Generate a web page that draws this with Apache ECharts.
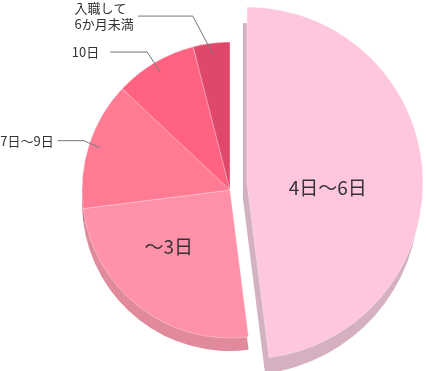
<!DOCTYPE html>
<html><head><meta charset="utf-8">
<script src="https://cdn.jsdelivr.net/npm/echarts@6/dist/echarts.min.js"></script>
<style>html,body{margin:0;padding:0;background:#fff}#c{width:426px;height:371px}</style>
</head><body><div id="c"></div>
<script>
// ---- data ----
const categories = ['4日〜6日', '〜3日', '7日〜9日', '10日', '入職して\n6か月未満'];
const values = [48, 25, 14, 9, 4];
// ---- styles ----
const faceColors = ['#FEC7DE', '#FF92A8', '#FF7B94', '#FF6381', '#DF486A'];
const sideColors = ['#D4B0C0', '#E08A9C', '#E07489', '#DE5E79', '#C23F5E'];
const explodedIndex = 0;
const MAIN = {cx: 230, cy: 190, r: 148, depth: [0, 13]};
const EXPL = {cx: 247, cy: 183, r: 176, depth: [-4, 16]};
const insideIdx = [0, 1];
const insideShift = {0: [-10, 10], 1: [-14, -4]};
// leader style per item: [elbow dx, elbow dy, horizontal length, text gap]
const leader = {2: [-16, -7, 26, 4], 3: [-13, -20, 37, 11], 4: [-20, -38, 55, 4]};
const NONE = 'rgba(0,0,0,0)';
const FONT = '"Noto Sans CJK JP","Noto Sans",sans-serif';

function makeData(colorFn, extra) {
  return categories.map((name, i) => {
    const c = colorFn(i);
    const d = {name: name, value: values[i], itemStyle: {color: c}};
    if (extra) extra(d, i, c);
    return d;
  });
}
function basePie(geo, dx, dy, r, z) {
  return {
    type: 'pie', startAngle: 90, clockwise: true, silent: true,
    center: [geo.cx + dx, geo.cy + dy], radius: [0, r],
    avoidLabelOverlap: false, z: z, label: {show: false}, labelLine: {show: false},
    emphasis: {disabled: true}
  };
}
const series = [];
// side (extrusion) layers
series.push(Object.assign(basePie(EXPL, EXPL.depth[0], EXPL.depth[1], EXPL.r, 1), {
  data: makeData(i => i === explodedIndex ? sideColors[i] : NONE)
}));
series.push(Object.assign(basePie(MAIN, MAIN.depth[0], MAIN.depth[1], MAIN.r, 1), {
  data: makeData(i => i === explodedIndex ? NONE : sideColors[i])
}));
// top faces
const faceExtra = (d, i, c) => {
  d.itemStyle.borderColor = c === NONE ? NONE : 'rgba(255,255,255,0.55)';
  d.itemStyle.borderWidth = c === NONE ? 0 : 0.6;
  d.label = {show: c !== NONE && insideIdx.indexOf(i) >= 0};
};
const faceLabel = {position: 'inside', color: '#333', fontSize: 19, fontFamily: FONT, fontWeight: 'normal'};
const faceLayout = p => { const s = insideShift[p.dataIndex]; return s ? {dx: s[0], dy: s[1]} : {}; };
series.push(Object.assign(basePie(EXPL, 0, 0, EXPL.r, 2), {
  data: makeData(i => i === explodedIndex ? faceColors[i] : NONE, faceExtra),
  label: faceLabel, labelLayout: faceLayout
}));
series.push(Object.assign(basePie(MAIN, 0, 0, MAIN.r, 2), {
  data: makeData(i => i === explodedIndex ? NONE : faceColors[i], faceExtra),
  label: faceLabel, labelLayout: faceLayout
}));
// leader labels (invisible pie)
series.push(Object.assign(basePie(MAIN, 0, 0, 137, 3), {
  data: makeData(() => NONE, (d, i) => { d.label = {show: !!leader[i]}; d.labelLine = {show: !!leader[i]}; }),
  label: {position: 'outside', color: '#333', fontSize: 13, lineHeight: 16, fontFamily: FONT},
  labelLine: {length: 5, length2: 5, smooth: false, lineStyle: {color: '#777', width: 1}},
  labelLayout: p => {
    const cfg = leader[p.dataIndex];
    if (!cfg || !p.labelLinePoints) return {};
    const p0 = p.labelLinePoints[0];
    const e = [p0[0] + cfg[0], p0[1] + cfg[1]];
    const end = [e[0] - cfg[2], e[1]];
    return {x: end[0] - cfg[3] - p.labelRect.width, y: e[1], align: 'left', verticalAlign: 'middle',
            labelLinePoints: [p0, e, end]};
  }
}));
const chart = echarts.init(document.getElementById('c'), null, {renderer: 'canvas'});
chart.setOption({animation: false, backgroundColor: '#fff', series: series});
</script></body></html>
